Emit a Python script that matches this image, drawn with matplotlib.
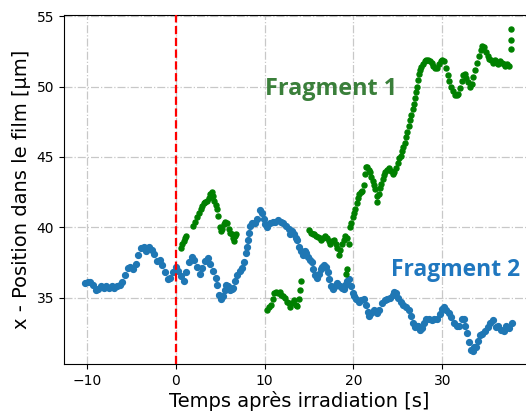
"""
Position x des deux fragments dans le film vs temps apres irradiation
"""

import matplotlib.pyplot as plt
import numpy as np

# fragment 2 (bleu)
t_frag2 = [-10.2, -9.9, -9.6, -9.3, -9.0, -8.7, -8.4, -8.1, -7.8, -7.5, -7.2, -6.9, -6.6, -6.3, -6.0,
           -5.7, -5.4, -5.1, -4.8, -4.5, -4.2, -3.9, -3.6, -3.3, -3.0, -2.7, -2.4, -2.1, -1.8, -1.5,
           -1.2, -0.9, -0.6, -0.3, 0.0, 0.3, 0.6, 0.9, 1.2, 1.5, 1.8, 2.1, 2.4, 2.7, 3.0,
           3.3, 3.6, 3.9, 4.2, 4.5, 4.7, 4.9, 5.1, 5.3, 5.5, 5.7, 5.9, 6.1, 6.3, 6.5,
           6.7, 6.9, 7.2, 7.5, 7.7, 7.9, 8.0, 8.1, 8.2, 8.4, 8.6, 8.9, 9.2, 9.5, 9.7,
           9.9, 10.1, 10.3, 10.6, 10.9, 11.2, 11.5, 11.8, 12.1, 12.4, 12.7, 12.9, 13.1, 13.3, 13.5,
           13.7, 13.9, 14.1, 14.3, 14.5, 14.7, 14.9, 15.1, 15.3, 15.5, 15.7, 15.9, 16.1, 16.3, 16.5,
           16.7, 16.9, 17.1, 17.3, 17.5, 17.7, 17.9, 18.1, 18.3, 18.5, 18.7, 18.9, 19.1, 19.3, 19.5,
           19.7, 19.9, 20.1, 20.3, 20.6, 20.9, 21.2, 21.4, 21.6, 21.8, 22.0, 22.3, 22.6, 22.9, 23.2,
           23.5, 23.8, 24.1, 24.4, 24.6, 24.8, 25.0, 25.3, 25.6, 25.9, 26.2, 26.5, 26.7, 26.9, 27.1,
           27.3, 27.5, 27.7, 27.9, 28.2, 28.5, 28.8, 29.1, 29.4, 29.7, 30.0, 30.2, 30.4, 30.7, 31.0,
           31.3, 31.6, 31.9, 32.2, 32.4, 32.6, 32.8, 33.0, 33.2, 33.4, 33.6, 33.8, 34.0, 34.2, 34.5,
           34.8, 35.1, 35.4, 35.7, 36.0, 36.3, 36.6, 36.9, 37.2, 37.5, 37.8]
x_frag2 = [36.0, 36.1, 36.1, 35.9, 35.5, 35.6, 35.8, 35.7, 35.8, 35.7, 35.8, 35.7, 35.8, 35.9, 36.1,
           36.6, 37.1, 37.2, 37.0, 37.4, 38.0, 38.5, 38.6, 38.3, 38.6, 38.4, 38.1, 37.6, 37.7, 37.3,
           36.8, 36.3, 36.4, 36.8, 37.2, 36.9, 36.5, 36.2, 36.8, 37.5, 37.9, 37.7, 37.2, 36.7, 37.1,
           37.6, 37.8, 37.4, 36.9, 36.4, 35.9, 35.2, 34.9, 35.1, 35.5, 35.9, 35.8, 35.5, 35.6, 35.7,
           36.2, 36.6, 36.9, 37.1, 37.5, 38.2, 38.6, 39.1, 39.6, 40.1, 40.3, 40.3, 40.6, 41.2, 41.0,
           40.6, 40.2, 40.0, 40.3, 40.4, 40.4, 40.5, 40.4, 40.3, 40.1, 39.9, 39.5, 39.7, 39.5, 39.2,
           39.1, 38.6, 38.3, 38.0, 38.3, 38.2, 37.9, 37.7, 37.5, 37.0, 36.6, 36.4, 36.7, 37.0, 37.2,
           37.3, 37.2, 36.8, 36.3, 35.8, 35.6, 35.8, 36.0, 35.9, 35.8, 35.7, 35.6, 35.9, 36.2, 36.3,
           35.8, 35.3, 35.1, 34.9, 34.7, 34.8, 34.9, 34.5, 34.0, 33.7, 33.9, 34.1, 33.9, 34.1, 34.6,
           34.8, 34.9, 35.0, 35.2, 35.4, 35.3, 35.0, 34.7, 34.5, 34.3, 34.1, 33.7, 33.2, 32.9, 33.0,
           33.0, 32.7, 32.8, 33.2, 33.5, 33.5, 33.4, 33.5, 33.5, 33.8, 34.2, 34.3, 34.1, 33.9, 33.6,
           33.2, 33.0, 33.0, 33.5, 33.5, 33.0, 32.5, 31.8, 31.3, 31.2, 31.5, 31.5, 31.9, 32.3, 32.4,
           32.6, 32.9, 33.2, 33.4, 32.9, 33.0, 32.7, 32.6, 33.0, 32.8, 33.2]

# fragment 1 (vert)
t_frag1 = [0.6, 0.75, 0.9, 1.05, 1.2, 2.0, 2.2, 2.4, 2.6, 2.8, 3.0, 3.2, 3.35, 3.5, 3.7,
           3.9, 4.05, 4.2, 4.35, 4.5, 4.65, 4.8, 4.95, 5.05, 5.2, 5.4, 5.6, 5.8, 5.95, 6.1,
           6.3, 6.45, 6.55, 6.7, 6.8,
           10.3, 10.5, 10.7, 10.9, 11.1, 11.3, 11.5, 11.7, 11.9, 12.1, 12.3, 12.5, 12.7, 12.9, 13.1,
           13.3, 13.5, 13.7, 13.85, 14.0, 14.05,
           15.0, 15.2, 15.4, 15.6, 15.8, 16.0, 16.2, 16.4, 16.6, 16.8, 17.0, 17.2, 17.4, 17.6, 17.8,
           18.0, 18.2, 18.35, 18.5, 18.7, 18.9, 19.1, 19.3, 19.45, 19.2, 19.3,
           19.6, 19.75, 19.9, 20.05, 20.2, 20.35, 20.5, 20.65, 20.8, 21.0, 21.15, 21.3, 21.4, 21.55, 21.7,
           21.85, 22.0, 22.15, 22.3, 22.45, 22.6, 22.7, 22.85, 23.0, 23.15, 23.3, 23.45, 23.6, 23.8, 24.0,
           24.2, 24.4, 24.6, 24.8, 25.0, 25.15, 25.3, 25.45, 25.6, 25.75, 25.9, 26.05, 26.2, 26.35, 26.5,
           26.65, 26.8, 26.95, 27.05, 27.15, 27.25, 27.35, 27.45, 27.6, 27.8, 28.0, 28.2, 28.4, 28.6, 28.8,
           29.0, 29.2, 29.4, 29.6, 29.8, 30.0, 30.2, 30.4, 30.6, 30.8, 31.0, 31.2, 31.4, 31.6, 31.8,
           32.0, 32.2, 32.35, 32.5, 32.7, 32.9, 33.1, 33.3, 33.5, 33.7, 33.9, 34.1, 34.3, 34.5, 34.7,
           34.9, 35.1, 35.3, 35.5, 35.7, 35.9, 36.1, 36.3, 36.5, 36.7, 36.9, 37.1, 37.3, 37.5, 37.7,
           37.72, 37.75]
x_frag1 = [38.5, 38.8, 39.0, 39.2, 39.4, 40.1, 40.4, 40.7, 41.0, 41.3, 41.5, 41.7, 41.8, 41.9, 42.1,
           42.4, 42.5, 42.2, 41.9, 41.6, 41.3, 40.8, 40.0, 39.7, 39.9, 40.2, 40.4, 40.3, 39.9, 39.6,
           39.5, 39.2, 39.0, 39.4, 39.5,
           34.1, 34.3, 34.5, 34.9, 35.3, 35.4, 35.3, 35.4, 35.2, 35.1, 35.0, 34.7, 34.6, 34.3, 34.6,
           34.8, 34.5, 34.4, 34.9, 35.5, 36.2,
           39.8, 39.6, 39.5, 39.5, 39.4, 39.3, 39.2, 39.1, 39.2, 39.4, 39.2, 39.0, 38.8, 39.0, 39.1,
           38.8, 38.5, 38.0, 38.4, 38.8, 39.1, 39.4, 39.2, 38.8, 36.7, 37.0,
           40.0, 40.3, 40.7, 41.0, 41.3, 41.7, 42.1, 42.4, 42.5, 42.6, 43.0, 43.8, 44.3, 44.3, 44.1,
           43.9, 43.6, 43.3, 43.0, 42.7, 42.2, 41.8, 42.4, 42.8, 43.1, 43.4, 43.7, 43.9, 44.1, 44.2,
           44.0, 43.8, 43.9, 44.2, 44.6, 44.9, 45.1, 45.4, 45.7, 46.0, 46.4, 46.8, 47.2, 47.6, 48.0,
           48.4, 48.8, 49.2, 49.6, 50.0, 50.5, 50.9, 51.2, 51.4, 51.6, 51.8, 51.9, 51.9, 51.8, 51.7,
           51.5, 51.3, 51.3, 51.6, 51.8, 51.9, 51.8, 51.3, 50.8, 50.4, 50.0, 49.7, 49.4, 49.4, 49.5,
           49.9, 50.4, 50.8, 50.9, 50.6, 50.3, 50.0, 50.2, 50.7, 51.2, 51.7, 52.2, 52.6, 52.9, 52.8,
           52.5, 52.2, 52.0, 51.9, 51.7, 51.9, 51.7, 51.6, 51.8, 51.7, 51.6, 51.5, 51.6, 51.5, 52.7,
           53.3, 54.1]

fig = plt.figure(figsize=(5.26, 4.12), dpi=100)
# axes run a little past the right edge (image was cropped)
ax = fig.add_axes([0.1217, 0.1165, 0.895, 0.847])

ax.plot(t_frag2, x_frag2, 'o', color='#1f77b4', markersize=4.2, linestyle='None', zorder=3)
ax.plot(t_frag1, x_frag1, 'o', color='green', markersize=3.6, linestyle='None', zorder=3)
ax.axvline(0, color='red', linestyle='--', linewidth=1.6, zorder=4)

ax.grid(True, linestyle='-.', color='#c8c8c8', linewidth=0.9)
ax.set_axisbelow(True)

ax.set_xlim(-12.56, 40.4)
ax.set_ylim(30.27, 55.1)
ax.set_xticks([-10, 0, 10, 20, 30])
ax.set_yticks([35, 40, 45, 50, 55])
ax.tick_params(labelsize=10)

ax.set_xlabel('Temps après irradiation [s]', fontsize=14, labelpad=2)
ax.set_ylabel('x - Position dans le film [µm]', fontsize=14)

# labels placed in pixel coordinates (from bottom)
ax.text(331, 412 - 89, 'Fragment 1', transform=None, fontsize=16.8, fontweight='bold',
        family='Open Sans', color='#3a7f3a', ha='center', va='center')
ax.text(391, 412 - 270, 'Fragment 2', transform=None, fontsize=16.5, fontweight='bold',
        family='Open Sans', color='#1f77bf', ha='left', va='center')

plt.savefig('out.png', dpi=100)
